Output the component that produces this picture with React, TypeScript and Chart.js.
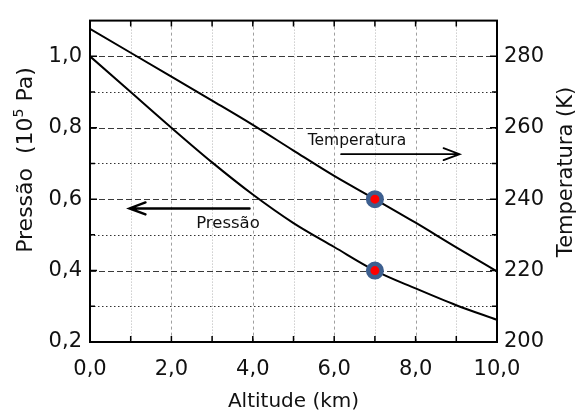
import React, { useEffect, useRef } from "react";
import { Chart, registerables } from "chart.js";

Chart.register(...registerables);

// ---- data ----
const ALTITUDE_KM = [0, 1, 2, 3, 4, 5, 6, 7, 8, 9, 10];
const PRESSURE_1E5PA = [1.0, 0.9, 0.8, 0.703, 0.613, 0.533, 0.466, 0.4, 0.35, 0.303, 0.262];
const TEMPERATURE_K = [287.7, 281.0, 274.3, 267.6, 260.8, 253.6, 246.5, 240.0, 233.4, 226.5, 219.8];

const MARKER_ALTITUDE = [7];
const MARKER_PRESSURE = [0.4];
const MARKER_TEMPERATURE = [240];

const X_TICKS = [0, 2, 4, 6, 8, 10];
const P_TICKS = [0.2, 0.4, 0.6, 0.8, 1.0];
const T_TICKS = [200, 220, 240, 260, 280];
const X_GRID = [1, 2, 3, 4, 5, 6, 7, 8, 9];
const P_GRID = [0.3, 0.4, 0.5, 0.6, 0.7, 0.8, 0.9, 1.0];

const X_MIN = 0, X_MAX = 10;
const P_MIN = 0.2, P_MAX = 1.1;
const T_MIN = 200, T_MAX = 290;

const X_TITLE = "Altitude (km)";
const T_TITLE = "Temperatura (K)";
const P_TITLE_MAIN = "Pressão  (10";
const P_TITLE_SUP = "5";
const P_TITLE_END = " Pa)";

const TEMP_LABEL = "Temperatura";
const PRESS_LABEL = "Pressão";
// annotation anchors, in data units (x: km, y: pressure axis)
const TEMP_LABEL_AT = [6.56, 0.751];
const PRESS_LABEL_AT = [3.39, 0.52];
const TEMP_ARROW = [6.17, 9.08, 0.726]; // from x, to x, at y
const PRESS_ARROW = [3.92, 0.97, 0.574];

const FONT = "'DejaVu Sans', sans-serif";
const fmt = (v: number) => v.toFixed(1).replace(".", ",");

const decor = {
  id: "decor",
  beforeDatasetsDraw(chart: any) {
    const { ctx, chartArea: a, scales } = chart;
    const xs = scales.x, ys = scales.y;
    ctx.save();
    ctx.lineWidth = 1;
    for (const v of X_GRID) {
      const px = Math.round(xs.getPixelForValue(v)) + 0.5;
      const major = v % 2 === 0;
      ctx.strokeStyle = major ? "#a0a0a0" : "#b4b4b4";
      ctx.setLineDash(major ? [3, 3] : [1, 2]);
      ctx.beginPath();
      ctx.moveTo(px, a.top);
      ctx.lineTo(px, a.bottom);
      ctx.stroke();
    }
    for (const v of P_GRID) {
      const py = Math.round(ys.getPixelForValue(v)) + 0.5;
      const major = Math.round(v * 10) % 2 === 0;
      ctx.strokeStyle = major ? "#3a3a3a" : "#333";
      ctx.setLineDash(major ? [6, 3] : [1.5, 2.5]);
      ctx.beginPath();
      ctx.moveTo(a.left, py);
      ctx.lineTo(a.right, py);
      ctx.stroke();
    }
    ctx.restore();
  },
  afterDatasetsDraw(chart: any) {
    const { ctx, chartArea: a, scales } = chart;
    const xs = scales.x, ys = scales.y;
    ctx.save();
    ctx.setLineDash([]);
    ctx.strokeStyle = "#000";
    // inward ticks
    ctx.lineWidth = 1.5;
    for (const v of X_GRID) {
      const px = xs.getPixelForValue(v);
      const len = 6;
      ctx.beginPath();
      ctx.moveTo(px, a.bottom);
      ctx.lineTo(px, a.bottom - len);
      ctx.moveTo(px, a.top);
      ctx.lineTo(px, a.top + len);
      ctx.stroke();
    }
    for (const v of P_GRID) {
      const py = ys.getPixelForValue(v);
      const len = Math.round(v * 10) % 2 === 0 ? 7 : 5;
      ctx.beginPath();
      ctx.moveTo(a.left, py);
      ctx.lineTo(a.left + len, py);
      ctx.moveTo(a.right, py);
      ctx.lineTo(a.right - len, py);
      ctx.stroke();
    }
    // frame
    ctx.lineWidth = 2;
    ctx.strokeRect(a.left, a.top, a.right - a.left, a.bottom - a.top);

    // arrows
    const arrow = (x0: number, x1: number, y: number, w: number) => {
      const p0 = xs.getPixelForValue(x0);
      const p1 = xs.getPixelForValue(x1);
      const py = ys.getPixelForValue(y);
      const dir = p1 > p0 ? 1 : -1;
      ctx.lineWidth = w;
      ctx.lineCap = "round";
      ctx.beginPath();
      ctx.moveTo(p0, py);
      ctx.lineTo(p1, py);
      ctx.moveTo(p1 - dir * 16, py - 6);
      ctx.lineTo(p1, py);
      ctx.lineTo(p1 - dir * 16, py + 6);
      ctx.stroke();
    };
    arrow(TEMP_ARROW[0], TEMP_ARROW[1], TEMP_ARROW[2], 1.8);
    arrow(PRESS_ARROW[0], PRESS_ARROW[1], PRESS_ARROW[2], 2.4);

    ctx.fillStyle = "#111";
    ctx.textAlign = "center";
    ctx.textBaseline = "alphabetic";
    ctx.font = `15.5px ${FONT}`;
    ctx.fillText(TEMP_LABEL, xs.getPixelForValue(TEMP_LABEL_AT[0]), ys.getPixelForValue(TEMP_LABEL_AT[1]));
    ctx.font = `16.5px ${FONT}`;
    ctx.fillText(PRESS_LABEL, xs.getPixelForValue(PRESS_LABEL_AT[0]), ys.getPixelForValue(PRESS_LABEL_AT[1]));
    ctx.restore();
  },
  afterDraw(chart: any) {
    const { ctx, chartArea: a } = chart;
    ctx.save();
    ctx.fillStyle = "#111";
    ctx.textBaseline = "alphabetic";
    // bottom title
    ctx.textAlign = "center";
    ctx.font = `20px ${FONT}`;
    ctx.fillText(X_TITLE, (a.left + a.right) / 2, 407);
    // left title with superscript
    ctx.save();
    ctx.translate(32, 160);
    ctx.rotate(-Math.PI / 2);
    ctx.textAlign = "left";
    const mainFont = `22px ${FONT}`;
    const supFont = `14px ${FONT}`;
    ctx.font = mainFont;
    const w1 = ctx.measureText(P_TITLE_MAIN).width;
    const w3 = ctx.measureText(P_TITLE_END).width;
    ctx.font = supFont;
    const w2 = ctx.measureText(P_TITLE_SUP).width;
    let x = -(w1 + w2 + w3) / 2;
    ctx.font = mainFont;
    ctx.fillText(P_TITLE_MAIN, x, 0);
    x += w1;
    ctx.font = supFont;
    ctx.fillText(P_TITLE_SUP, x, -9);
    x += w2;
    ctx.font = mainFont;
    ctx.fillText(P_TITLE_END, x, 0);
    ctx.restore();
    // right title
    ctx.save();
    ctx.translate(572, 172);
    ctx.rotate(-Math.PI / 2);
    ctx.textAlign = "center";
    ctx.font = `21px ${FONT}`;
    ctx.fillText(T_TITLE, 0, 0);
    ctx.restore();
    ctx.restore();
  },
};

export default function App() {
  const canvasRef = useRef<HTMLCanvasElement | null>(null);

  useEffect(() => {
    document.body.style.margin = "0";
    const canvas = canvasRef.current;
    if (!canvas) return;

    const markerStyle = {
      showLine: false,
      pointRadius: 6.75,
      pointHoverRadius: 6.75,
      pointBorderWidth: 4.5,
      pointBackgroundColor: "#ff0000",
      pointBorderColor: "#3d5f8f",
      order: 0,
    };

    const tickFont = { family: FONT, size: 21 };

    const chart = new Chart(canvas, {
      type: "line",
      data: {
        datasets: [
          {
            label: "marker P",
            data: MARKER_ALTITUDE.map((x, i) => ({ x, y: MARKER_PRESSURE[i] })),
            yAxisID: "y",
            ...markerStyle,
          },
          {
            label: "marker T",
            data: MARKER_ALTITUDE.map((x, i) => ({ x, y: MARKER_TEMPERATURE[i] })),
            yAxisID: "y2",
            ...markerStyle,
          },
          {
            label: "Pressão",
            data: ALTITUDE_KM.map((x, i) => ({ x, y: PRESSURE_1E5PA[i] })),
            yAxisID: "y",
            borderColor: "#000",
            borderWidth: 2,
            pointRadius: 0,
            cubicInterpolationMode: "monotone",
            order: 1,
          },
          {
            label: "Temperatura",
            data: ALTITUDE_KM.map((x, i) => ({ x, y: TEMPERATURE_K[i] })),
            yAxisID: "y2",
            borderColor: "#000",
            borderWidth: 2,
            pointRadius: 0,
            cubicInterpolationMode: "monotone",
            order: 1,
          },
        ],
      },
      options: {
        animation: false,
        responsive: true,
        maintainAspectRatio: false,
        layout: { padding: { top: 12, left: 0, right: 0, bottom: 0 } },
        plugins: { legend: { display: false }, tooltip: { enabled: false } },
        events: [],
        scales: {
          x: {
            type: "linear",
            min: X_MIN,
            max: X_MAX,
            grid: { display: false, drawTicks: false, tickLength: 0 },
            border: { display: false },
            afterBuildTicks: (s: any) => {
              s.ticks = X_TICKS.map((value) => ({ value }));
            },
            afterFit: (s: any) => {
              s.height = 70;
            },
            ticks: {
              padding: 15,
              maxRotation: 0,
              color: "#111",
              font: tickFont,
              callback: (v: any) => fmt(Number(v)),
            },
          },
          y: {
            type: "linear",
            position: "left",
            min: P_MIN,
            max: P_MAX,
            grid: { display: false, drawTicks: false, tickLength: 0 },
            border: { display: false },
            afterBuildTicks: (s: any) => {
              s.ticks = P_TICKS.map((value) => ({ value }));
            },
            afterFit: (s: any) => {
              s.width = 90;
            },
            ticks: {
              padding: 8,
              color: "#111",
              font: tickFont,
              callback: (v: any) => fmt(Number(v)),
            },
          },
          y2: {
            type: "linear",
            position: "right",
            min: T_MIN,
            max: T_MAX,
            grid: { display: false, drawTicks: false, tickLength: 0 },
            border: { display: false },
            afterBuildTicks: (s: any) => {
              s.ticks = T_TICKS.map((value) => ({ value }));
            },
            afterFit: (s: any) => {
              s.width = 82;
            },
            ticks: {
              padding: 7,
              color: "#111",
              font: tickFont,
              callback: (v: any) => String(v),
            },
          },
        },
      },
      plugins: [decor],
    } as any);

    return () => chart.destroy();
  }, []);

  return (
    <div style={{ position: "absolute", left: 0, top: 0, width: 579, height: 412, background: "#fff" }}>
      <canvas ref={canvasRef} />
    </div>
  );
}
